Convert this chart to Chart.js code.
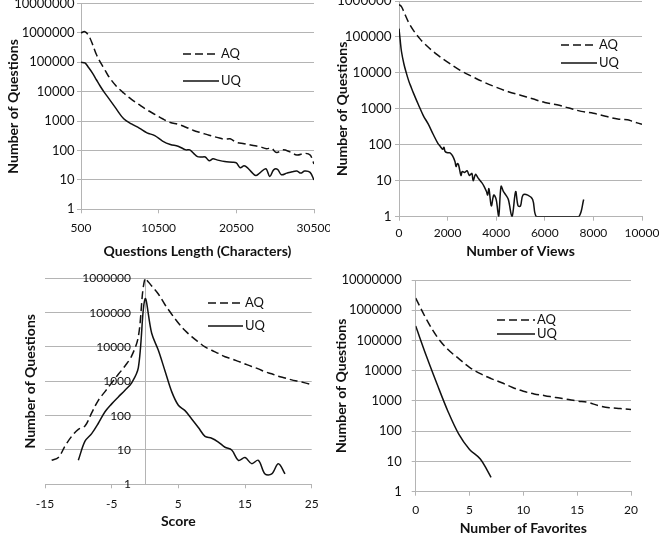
<!DOCTYPE html>
<html>
<head>
<meta charset="utf-8">
<script src="https://cdn.jsdelivr.net/npm/chart.js@4.4.0/dist/chart.umd.min.js"></script>
<style>
  html, body { margin: 0; padding: 0; background: #fff; }
  body { width: 659px; height: 541px; position: relative; overflow: hidden; }
  .panel { position: absolute; }
</style>
</head>
<body>
<div class="panel" style="left:0;top:0;width:330px;height:270px"><canvas id="c1"></canvas></div>
<div class="panel" style="left:330px;top:0;width:329px;height:270px"><canvas id="c2"></canvas></div>
<div class="panel" style="left:0;top:270px;width:330px;height:271px"><canvas id="c3"></canvas></div>
<div class="panel" style="left:330px;top:270px;width:329px;height:271px"><canvas id="c4"></canvas></div>
<script>
// --- data ---
const seriesNames = ['AQ', 'UQ'];
const yTitle = 'Number of Questions';

// question length (characters)
const lengthAQx = [500, 1000, 1500, 2000, 2500, 3000, 3500, 4000, 5000, 6000, 7000, 8000, 9000, 10000, 11000, 12000, 13000, 14000, 15000, 16000, 17000, 18000, 19000, 19700, 20500, 21500, 22500, 23500, 24400, 25000, 25700, 26500, 27400, 28300, 29300, 30000, 30500];
const lengthAQ = [1000000, 1100000, 800000, 400000, 180000, 100000, 60000, 35000, 16000, 9000, 5500, 3600, 2400, 1700, 1200, 900, 780, 620, 480, 400, 330, 280, 240, 250, 190, 170, 150, 135, 115, 120, 85, 105, 90, 70, 80, 70, 35];
const lengthUQx = [500, 1000, 1500, 2000, 2500, 3000, 3500, 4000, 5000, 6000, 7000, 8000, 9000, 10000, 11000, 12000, 13000, 14000, 14500, 15000, 15500, 16000, 16500, 17000, 17500, 18000, 19000, 20000, 20500, 21000, 21500, 22000, 22500, 23000, 23500, 24300, 24800, 25300, 25800, 26300, 27000, 27700, 28300, 28800, 29300, 30000, 30500];
const lengthUQ = [100000, 95000, 65000, 42000, 25000, 15000, 9500, 6300, 2700, 1200, 800, 580, 400, 320, 210, 160, 140, 105, 105, 80, 62, 60, 60, 45, 52, 48, 42, 40, 38, 26, 30, 25, 18, 14, 17, 24, 13, 22, 23, 15, 17, 19, 20, 17, 20, 18, 10];
const lengthTicks = [500, 10500, 20500, 30500];

// number of views
const viewsAQx = [0, 100, 200, 400, 600, 800, 1000, 1500, 2000, 2500, 3000, 3500, 4000, 4500, 5000, 5500, 6000, 6500, 7000, 7500, 8000, 8500, 9000, 9400, 9600, 10000];
const viewsAQ = [800000, 700000, 500000, 250000, 150000, 100000, 70000, 35000, 20000, 12000, 8000, 5500, 4000, 3000, 2400, 1900, 1500, 1300, 1050, 850, 750, 620, 520, 500, 450, 370];
const viewsUQx = [0, 50, 100, 200, 300, 400, 500, 600, 800, 1000, 1200, 1400, 1600, 1700, 1800, 1850, 1900, 2000, 2100, 2200, 2300, 2350, 2400, 2450, 2550, 2600, 2700, 2800, 2900, 3000, 3050, 3150, 3250, 3400, 3500, 3600, 3650, 3700, 3800, 3900, 4000, 4100, 4200, 4300, 4400, 4500, 4650, 4800, 4900, 5000, 5100, 5300, 5500, 5650, 6000, 7000, 7400, 7600];
const viewsUQ = [170000, 80000, 40000, 18000, 10000, 6000, 4000, 2700, 1300, 650, 380, 200, 110, 90, 75, 85, 65, 60, 60, 50, 35, 25, 30, 28, 14, 18, 17, 19, 14, 16, 10, 15, 12, 9, 7, 5, 4, 6, 2, 4, 3, 1, 7, 5, 4, 3, 1, 5, 2, 2, 4, 4, 3, 1, 1, 1, 1, 3];
const viewsTicks = [0, 2000, 4000, 6000, 8000, 10000];

// score
const scoreAQx = [-14, -13, -12, -11, -10, -9, -8, -7, -6, -5, -4, -3, -2, -1, 0, 1, 2, 3, 4, 5, 6, 7, 8, 9, 10, 11, 12, 13, 14, 15, 16, 17, 18, 19, 20, 21, 22, 23, 24, 25];
const scoreAQ = [5, 6, 13, 25, 40, 50, 120, 280, 500, 900, 1600, 2800, 5500, 20000, 1000000, 600000, 350000, 170000, 90000, 50000, 30000, 20000, 14000, 10000, 8000, 6500, 5200, 4500, 3800, 3200, 2700, 2300, 1900, 1650, 1400, 1250, 1100, 1000, 900, 800];
const scoreUQx = [-10, -9, -8, -7, -6, -5, -4, -3, -2, -1, 0, 1, 2, 3, 4, 5, 6, 7, 8, 9, 10, 11, 12, 13, 14, 15, 16, 17, 18, 19, 20, 21];
const scoreUQ = [5, 18, 30, 60, 130, 220, 350, 550, 900, 2500, 250000, 25000, 8000, 2000, 500, 200, 140, 80, 45, 25, 22, 17, 12, 10, 5, 6, 4, 5, 2, 2, 4, 2];
const scoreTicks = [-15, -5, 5, 15, 25];

// number of favorites
const favAQx = [0, 1, 2, 3, 4, 5, 6, 7, 8, 9, 10, 11, 12, 13, 14, 15, 16, 17, 18, 19, 20];
const favAQ = [2500000, 500000, 130000, 50000, 25000, 13000, 8000, 5500, 4000, 2800, 2100, 1700, 1500, 1300, 1150, 1000, 900, 700, 600, 560, 520];
const favUQx = [0, 1, 2, 3, 4, 5, 6, 7];
const favUQ = [300000, 30000, 3500, 450, 80, 25, 12, 3];
const favTicks = [0, 5, 10, 15, 20];

const logTicks7 = [1, 10, 100, 1000, 10000, 100000, 1000000, 10000000];
const logTicks6 = [1, 10, 100, 1000, 10000, 100000, 1000000];

// --- drawing ---
const FONT = 'Lato, "Open Sans", sans-serif';
const GRID = '#b4b4b4';
const INK = '#111';
const CLEAR = 'rgba(0,0,0,0)';

const inlineLegend = {
  id: 'inlineLegend',
  afterDatasetsDraw(chart, args, opts) {
    const ctx = chart.ctx;
    ctx.save();
    chart.data.datasets.forEach((ds, i) => {
      const y = opts.ys[i];
      ctx.strokeStyle = ds.borderColor;
      ctx.lineWidth = ds.borderWidth;
      ctx.setLineDash(ds.borderDash || []);
      ctx.beginPath();
      ctx.moveTo(opts.x1, y);
      ctx.lineTo(opts.x2, y);
      ctx.stroke();
      ctx.setLineDash([]);
      ctx.fillStyle = INK;
      ctx.font = '13px ' + FONT;
      ctx.textBaseline = 'middle';
      ctx.fillText(ds.label, opts.x2 + 2, y);
    });
    ctx.restore();
  }
};

function pts(xs, ys) {
  return xs.map((x, i) => ({ x: x, y: ys[i] }));
}

function series(xa, ya, xb, yb) {
  return [
    { label: seriesNames[0], data: pts(xa, ya), borderColor: INK, borderWidth: 1.5, borderDash: [8, 4], pointRadius: 0, tension: 0.35, fill: false },
    { label: seriesNames[1], data: pts(xb, yb), borderColor: INK, borderWidth: 1.5, pointRadius: 0, tension: 0.35, fill: false }
  ];
}

const titleFont = { family: FONT, size: 14, weight: 'bold' };

function makePanel(id, p) {
  const cw = p.w, ch = p.h, a = p.area;
  const xTicks = p.zeroLine ? p.xTicks.concat([0]).sort((m, n) => m - n) : p.xTicks;
  const yMin = p.yTicks[0], yMax = p.yTicks[p.yTicks.length - 1];
  const xFont = { family: FONT, size: 12 };
  const yFont = { family: FONT, size: p.ySize };
  const scales = {};
  scales.x = {
    type: 'linear',
    min: p.xTicks[0],
    max: p.xTicks[p.xTicks.length - 1],
    afterBuildTicks: s => { s.ticks = xTicks.map(v => ({ value: v })); },
    afterFit: s => { s.height = ch - a.b; s.paddingLeft = 0; s.paddingRight = 0; },
    grid: {
      drawOnChartArea: !!p.zeroLine,
      drawTicks: true,
      tickLength: 4,
      color: c => (p.zeroLine && c.tick && c.tick.value === 0) ? GRID : CLEAR,
      tickColor: c => (p.zeroLine && c.tick && c.tick.value === 0) ? CLEAR : GRID
    },
    border: { display: true, color: GRID },
    ticks: { color: INK, font: xFont, padding: p.xPad, maxRotation: 0, autoSkip: false,
             callback: v => (p.zeroLine && v === 0) ? '' : String(v) },
    title: { display: true, text: p.xTitle, color: INK, font: titleFont, padding: { top: 0, bottom: p.xTitlePad } }
  };
  scales.y = {
    type: 'logarithmic',
    position: 'left',
    min: yMin,
    max: yMax,
    afterBuildTicks: s => { s.ticks = p.yTicks.map(v => ({ value: v })); },
    afterFit: s => { s.width = a.l; s.paddingTop = 0; s.paddingBottom = 0; },
    grid: { color: GRID, lineWidth: 1, drawTicks: !p.zeroLine, tickLength: 4 },
    border: { display: !p.zeroLine, color: GRID },
    ticks: { display: !p.zeroLine, color: INK, font: yFont, padding: p.yPad, callback: v => String(v) },
    title: { display: true, text: yTitle, color: INK, font: titleFont, padding: { top: p.yTitlePad, bottom: 0 } }
  };
  if (p.zeroLine) {
    // tick labels sit just left of the vertical axis drawn at score 0
    scales.yl = {
      type: 'logarithmic',
      position: { x: p.labelAt },
      min: yMin,
      max: yMax,
      afterBuildTicks: s => { s.ticks = p.yTicks.map(v => ({ value: v })); },
      afterFit: s => { s.paddingTop = 0; s.paddingBottom = 0; },
      grid: { display: false, drawOnChartArea: false },
      border: { display: false },
      ticks: { color: INK, font: yFont, padding: 0, callback: v => String(v) }
    };
  }
  return new Chart(document.getElementById(id), {
    type: 'line',
    data: { datasets: p.datasets },
    plugins: [inlineLegend],
    options: {
      responsive: true,
      maintainAspectRatio: false,
      animation: false,
      layout: { padding: { left: 0, top: a.t, right: cw - a.r, bottom: 0 } },
      plugins: {
        legend: { display: false },
        tooltip: { enabled: false },
        inlineLegend: p.legend
      },
      scales: scales
    }
  });
}

makePanel('c1', {
  w: 330, h: 270, area: { l: 81, r: 314, t: 3.5, b: 209.3 },
  datasets: series(lengthAQx, lengthAQ, lengthUQx, lengthUQ),
  xTicks: lengthTicks, yTicks: logTicks7,
  xTitle: 'Questions Length (Characters)',
  ySize: 13, yPad: 2.5, xPad: 7.3, yTitlePad: 5, xTitlePad: 10.6,
  legend: { x1: 183, x2: 219, ys: [54, 81] }
});

makePanel('c2', {
  w: 329, h: 270, area: { l: 69, r: 312, t: 1, b: 216.7 },
  datasets: series(viewsAQx, viewsAQ, viewsUQx, viewsUQ),
  xTicks: viewsTicks, yTicks: logTicks6,
  xTitle: 'Number of Views',
  ySize: 13.5, yPad: 3.3, xPad: 4.9, yTitlePad: 3.6, xTitlePad: 10.6,
  legend: { x1: 231, x2: 267, ys: [45, 63] }
});

makePanel('c3', {
  w: 330, h: 271, area: { l: 45, r: 311.7, t: 8.3, b: 214.3 },
  datasets: series(scoreAQx, scoreAQ, scoreUQx, scoreUQ),
  xTicks: scoreTicks, yTicks: logTicks6, zeroLine: true, labelAt: -2.1,
  xTitle: 'Score',
  ySize: 12, yPad: 0, xPad: 8.3, yTitlePad: 21.6, xTitlePad: 10.9,
  legend: { x1: 208, x2: 243, ys: [33, 56] }
});

makePanel('c4', {
  w: 329, h: 271, area: { l: 85.7, r: 301, t: 10, b: 221.7 },
  datasets: series(favAQx, favAQ, favUQx, favUQ),
  xTicks: favTicks, yTicks: logTicks7,
  xTitle: 'Number of Favorites',
  ySize: 13, yPad: 10, xPad: 6.9, yTitlePad: 3.3, xTitlePad: 4.6,
  legend: { x1: 167, x2: 205, ys: [50, 64] }
});
</script>
</body>
</html>
